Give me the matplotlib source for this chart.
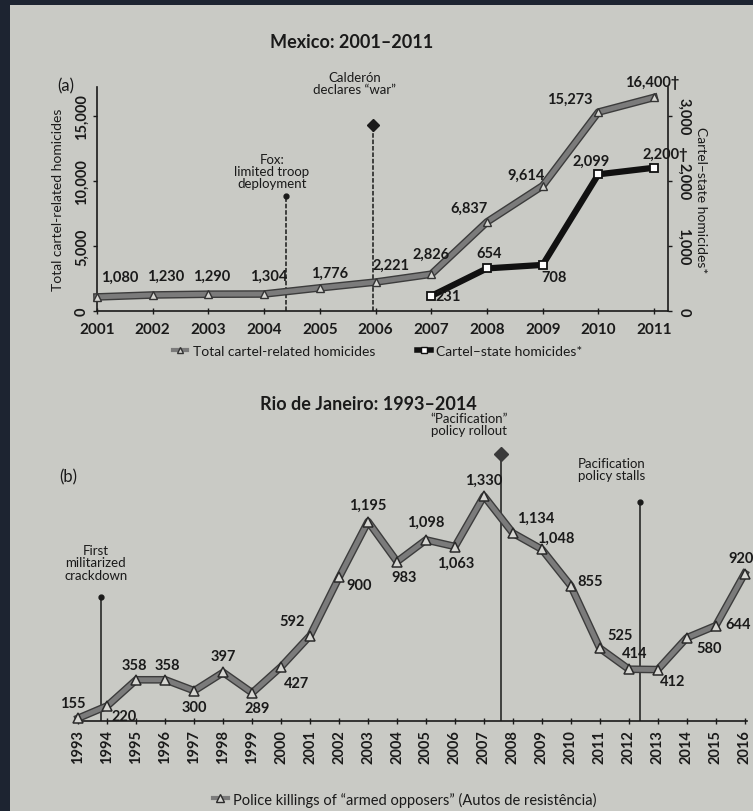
import matplotlib
matplotlib.use('Agg')
import matplotlib.pyplot as plt
from matplotlib.patches import Rectangle
from matplotlib.lines import Line2D
import matplotlib.patheffects as pe

plt.rcParams['font.family'] = ['Lato', 'DejaVu Sans']

# ---------------- data ----------------
mx_years = [2001, 2002, 2003, 2004, 2005, 2006, 2007, 2008, 2009, 2010, 2011]
mx_total = [1080, 1230, 1290, 1304, 1776, 2221, 2826, 6837, 9614, 15273, 16400]
mx_total_labels = ['1,080', '1,230', '1,290', '1,304', '1,776', '2,221', '2,826',
                   '6,837', '9,614', '15,273', '16,400†']
cs_years = [2007, 2008, 2009, 2010, 2011]
cs_vals = [231, 654, 708, 2099, 2200]
cs_labels = ['231', '654', '708', '2,099', '2,200†']

rio_years = list(range(1993, 2017))
rio_vals = [155, 220, 358, 358, 300, 397, 289, 427, 592, 900, 1195, 983,
            1098, 1063, 1330, 1134, 1048, 855, 525, 414, 412, 580, 644, 920]
rio_labels = ['155', '220', '358', '358', '300', '397', '289', '427', '592', '900',
              '1,195', '983', '1,098', '1,063', '1,330', '1,134', '1,048', '855',
              '525', '414', '412', '580', '644', '920']

mx_left_ticks = [0, 5000, 10000, 15000]
mx_left_ticklabels = ['0', '5,000', '10,000', '15,000']
mx_right_ticks = [0, 1000, 2000, 3000]
mx_right_ticklabels = ['0', '1,000', '2,000', '3,000']

# label offsets in pixels (dx right, dy down)
mx_total_off = [(23, -20), (13, -19), (3, -18), (5, -18), (10, -15), (15, -17),
                (0, -20), (-18, -14), (-17, -11), (-29, -13), (-2, -15)]
cs_off = [(17, 0), (2, -15), (11, 12), (-7, -14), (11, -14)]
rio_off = [(-6, -15), (17, 10), (-2, -15), (2, -15), (0, 16), (0, -16), (5, 15),
           (15, 16), (-18, -15), (20, 8), (0, -17), (7, 15), (0, -18), (1, 16),
           (0, -16), (23, -15), (14, -12), (19, -5), (20, -13), (6, -16),
           (15, 11), (22, 10), (22, -2), (-4, -16)]

PAGE = '#c9cac5'
DARK = '#1d2431'
INK = '#1a1a1a'
GREY = '#7b7b7b'

fig = plt.figure(figsize=(7.53, 8.12), dpi=100)
fig.patch.set_facecolor(DARK)
fig.add_artist(Rectangle((10 / 753, 0), 1, 1 - 6 / 812, transform=fig.transFigure,
                         facecolor=PAGE, edgecolor='none', zorder=-10))

W, H = 753, 812
stroke = [pe.Stroke(linewidth=5.5, foreground='#3c3c3c'), pe.Normal()]

# ---------------- (a) Mexico ----------------
ax1 = fig.add_axes([97 / W, 1 - 312 / H, (668 - 97) / W, (312 - 88) / H])
ax1.set_facecolor('none')
ax1.set_xlim(2001, 2011.25)
ax1.set_ylim(0, 17200)
ax2 = ax1.twinx()
ax2.set_ylim(0, 3440)

for a in (ax1, ax2):
    a.spines['top'].set_visible(False)
    for s in a.spines.values():
        s.set_color(INK)
        s.set_linewidth(1.2)
ax1.spines['right'].set_visible(False)
ax2.spines['left'].set_visible(False)
ax2.spines['bottom'].set_visible(False)

ax1.set_xticks(mx_years)
ax1.set_xticklabels([str(y) for y in mx_years], fontsize=11, fontweight='bold', color=INK)
ax1.tick_params(axis='x', direction='inout', length=4, width=1, color=INK, pad=6)
ax1.set_yticks(mx_left_ticks)
ax1.set_yticklabels(mx_left_ticklabels, rotation=90, va='center', fontsize=10.5,
                    fontweight='bold', color=INK)
ax1.tick_params(axis='y', direction='out', length=3, width=1, color=INK, pad=3)
ax2.set_yticks(mx_right_ticks)
ax2.set_yticklabels(mx_right_ticklabels, rotation=-90, va='center', fontsize=10.5,
                    fontweight='bold', color=INK)
ax2.tick_params(axis='y', direction='out', length=3, width=1, color=INK, pad=3)
ax1.set_ylabel('Total cartel-related homicides', fontsize=10, color=INK, labelpad=8)
ax2.set_ylabel('Cartel–state homicides*', fontsize=10, color=INK, rotation=-90,
               labelpad=12)

ax1.plot(mx_years, mx_total, color=GREY, lw=3.5, zorder=4, path_effects=stroke,
         clip_on=False)
ax1.plot(mx_years, mx_total, ls='none', marker='^', ms=6, mfc='#d6d6d2',
         mec='#333333', mew=1.0, zorder=5, clip_on=False)
ax2.plot(cs_years, cs_vals, color='#111111', lw=4.5, marker='s', ms=6, mfc='white',
         mec='#111111', mew=1.3, zorder=4, clip_on=False)

for x, y, t, (dx, dy) in zip(mx_years, mx_total, mx_total_labels, mx_total_off):
    ax1.annotate(t, (x, y), xytext=(dx, -dy), textcoords='offset pixels', ha='center',
                 va='center', fontsize=10.5, fontweight='bold', color=INK, zorder=6)
for x, y, t, (dx, dy) in zip(cs_years, cs_vals, cs_labels, cs_off):
    ax2.annotate(t, (x, y), xytext=(dx, -dy), textcoords='offset pixels', ha='center',
                 va='center', fontsize=10.5, fontweight='bold', color=INK, zorder=6)

# event lines (a)
ax1.plot([2004.4, 2004.4], [0, 8800], color=INK, lw=1.1, ls=(0, (3, 1.2)), zorder=2)
ax1.plot([2004.4], [8800], marker='o', ms=3.5, color=INK, zorder=3)
ax1.text(2004.14, 10750, 'Fox:\nlimited troop\ndeployment', ha='center', va='center',
         fontsize=9.5, color=INK, linespacing=1.05)
ax1.plot([2005.95, 2005.95], [0, 14300], color=INK, lw=1.1, ls=(0, (3, 1.2)), zorder=2)
ax1.plot([2005.95], [14300], marker='D', ms=6.5, color=INK, zorder=3, clip_on=False)
ax1.text(2005.63, 17500, 'Calderón\ndeclares “war”', ha='center', va='center',
         fontsize=9.5, color=INK, linespacing=1.05, clip_on=False)

fig.text(352 / W, 1 - 42 / H, 'Mexico: 2001–2011', ha='center', va='center',
         fontsize=13, fontweight='bold', color=INK)
fig.text(66 / W, 1 - 86 / H, '(a)', ha='center', va='center', fontsize=12, color=INK)

h1 = Line2D([], [], color=GREY, lw=3, marker='^', ms=5, mfc='#d6d6d2', mec='#333333')
h2 = Line2D([], [], color='#111111', lw=4, marker='s', ms=5, mfc='white', mec='#111111')
fig.legend([h1, h2], ['Total cartel-related homicides', 'Cartel–state homicides*'],
           loc='center', bbox_to_anchor=(378 / W, 1 - 352 / H), ncol=2, frameon=False,
           fontsize=10, handlelength=1.0, handletextpad=0.4, columnspacing=3.0,
           labelcolor=INK)

# ---------------- (b) Rio ----------------
ax3 = fig.add_axes([76 / W, 1 - 722 / H, (747 - 76) / W, (722 - 446) / H])
ax3.set_facecolor('none')
ax3.set_xlim(1992.92, 2016.08)
ax3.set_ylim(140, 1600)
for s in ('top', 'left', 'right'):
    ax3.spines[s].set_visible(False)
ax3.spines['bottom'].set_color(INK)
ax3.spines['bottom'].set_linewidth(1.2)
ax3.set_yticks([])
ax3.set_xticks(rio_years)
ax3.set_xticklabels([str(y) for y in rio_years], rotation=90, fontsize=10.5,
                    fontweight='bold', color=INK)
ax3.tick_params(axis='x', direction='inout', length=4, width=1, color=INK, pad=4)

ax3.plot(rio_years, rio_vals, color=GREY, lw=3.5, zorder=4, path_effects=stroke,
         clip_on=False)
ax3.plot(rio_years, rio_vals, ls='none', marker='^', ms=7, mfc='#d6d6d2',
         mec='#2a2a2a', mew=1.1, zorder=5, clip_on=False)
for x, y, t, (dx, dy) in zip(rio_years, rio_vals, rio_labels, rio_off):
    ax3.annotate(t, (x, y), xytext=(dx, -dy), textcoords='offset pixels', ha='center',
                 va='center', fontsize=10.5, fontweight='bold', color=INK, zorder=6,
                 annotation_clip=False)

ax3.plot([1993.8, 1993.8], [140, 796], color=INK, lw=1.1, zorder=2)
ax3.plot([1993.8], [796], marker='o', ms=3.5, color=INK, zorder=3)
ax3.text(1993.6, 981, 'First\nmilitarized\ncrackdown', ha='center', va='center',
         fontsize=9.5, color=INK, linespacing=1.05)
ax3.plot([2007.6, 2007.6], [140, 1553], color=INK, lw=1.1, zorder=2)
ax3.plot([2007.6], [1553], marker='D', ms=7, color='#3a3a3a', zorder=3, clip_on=False)
ax3.text(2006.5, 1711, '“Pacification”\npolicy rollout', ha='center', va='center',
         fontsize=9.5, color=INK, linespacing=1.05, clip_on=False)
ax3.plot([2012.4, 2012.4], [140, 1300], color=INK, lw=1.1, zorder=2)
ax3.plot([2012.4], [1300], marker='o', ms=3.5, color=INK, zorder=3)
ax3.text(2011.4, 1473, 'Pacification\npolicy stalls', ha='center', va='center',
         fontsize=9.5, color=INK, linespacing=1.05)

fig.text(368 / W, 1 - 405 / H, 'Rio de Janeiro: 1993–2014', ha='center', va='center',
         fontsize=13, fontweight='bold', color=INK)
fig.text(68 / W, 1 - 477 / H, '(b)', ha='center', va='center', fontsize=12, color=INK)

h3 = Line2D([], [], color=GREY, lw=3, marker='^', ms=6, mfc='#d6d6d2', mec='#2a2a2a')
fig.legend([h3], ['Police killings of “armed opposers” (Autos de resistência)'],
           loc='center', bbox_to_anchor=(405 / W, 1 - 800 / H), frameon=False,
           fontsize=10.5, handlelength=1.0, handletextpad=0.4, labelcolor=INK)

fig.savefig('out.png', dpi=100, facecolor=fig.get_facecolor())
